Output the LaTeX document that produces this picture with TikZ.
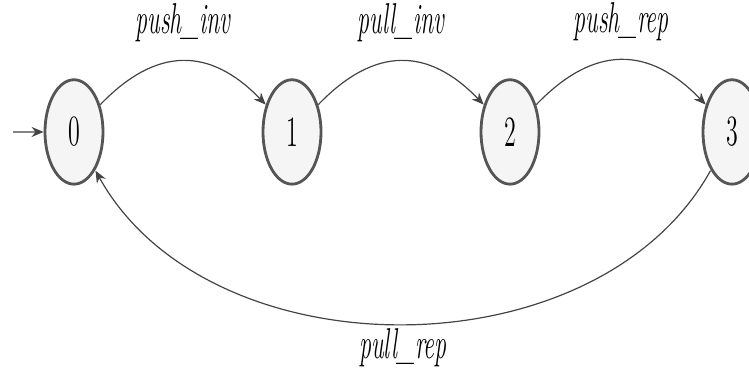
\documentclass[tikz,border=0pt]{standalone}
\usetikzlibrary{arrows.meta, positioning}
\definecolor{stategray}{HTML}{555555}
\definecolor{statefill}{HTML}{F5F5F5}
\definecolor{edgegray}{HTML}{444444}
\begin{document}
\begin{tikzpicture}[
x=0.5pt, y=0.5pt,
yscale=1.8,
transform shape,
>={Stealth[length=6pt,width=5pt]},
state/.style={
circle,
draw=stategray,
line width=1.4pt,
fill=statefill,
minimum size=29pt,
inner sep=0pt,
font=\fontsize{12}{14}\selectfont
},
trans/.style={->, draw=edgegray, line width=0.6pt},
lab/.style={midway, inner sep=2pt, font=\fontsize{12}{14}\selectfont\itshape}
]
\useasboundingbox (0,0) rectangle (749,-205);

% States
\node[state] (s0) at (74,-73.3) {0};
\node[state] (s1) at (292,-73.3) {1};
\node[state] (s2) at (510,-73.3) {2};
\node[state] (s3) at (732,-73.3) {3};
\coordinate (init) at (13,-73.3);

% Initial arrow
\draw[trans] (init) -- (s0);

% Forward transitions
\draw[trans, bend left=30]
(s0) to node[lab, above=3pt] {push\_inv} (s1);
\draw[trans, bend left=30]
(s1) to node[lab, above=3pt] {pull\_inv} (s2);
\draw[trans, bend left=30]
(s2) to node[lab, above=3pt] {push\_rep} (s3);

% Back to start
\draw[trans, bend left=45, looseness=0.67]
(s3) to node[lab, below, inner sep=1pt] {pull\_rep} (s0);

\end{tikzpicture}
\end{document}
